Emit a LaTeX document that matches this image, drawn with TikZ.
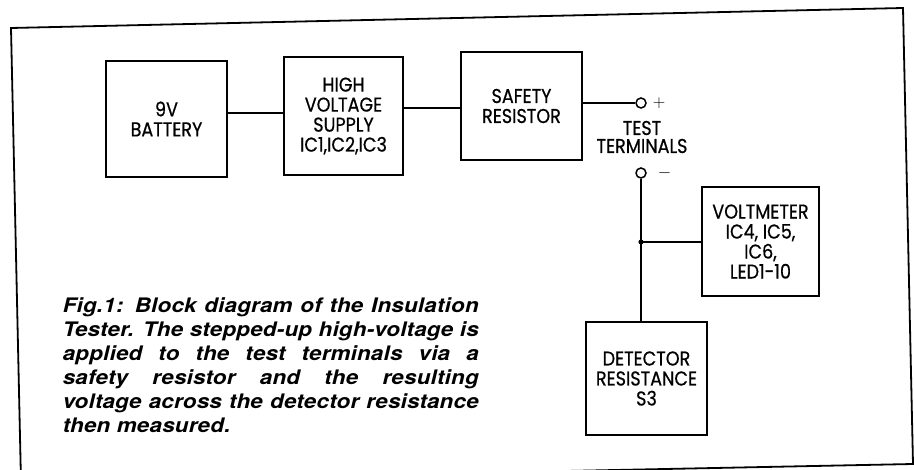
\documentclass[tikz,border=0pt]{standalone}
\usepackage{fontspec}
\usepackage{tikz}
\usetikzlibrary{positioning,calc}
\newfontfamily\boxfont[FakeStretch=0.88, FakeBold=0.6]{Poppins}
\newfontfamily\capfont[FakeStretch=1.12, LetterSpace=1]{TeX Gyre Heros}

\begin{document}
\begin{tikzpicture}[
    x=1pt, y=-1pt,
    line width=1.5pt,
    font=\boxfont\fontsize{20}{20}\selectfont,
    block/.style={draw, line width=1.7pt, align=center, inner sep=0pt, minimum width=121pt, minimum height=114pt},
    wire/.style={draw, line width=1.5pt},
    term/.style={circle, draw, line width=1.5pt, minimum size=10pt, inner sep=0pt},
    frame/.style={draw, line width=1.8pt, line join=miter}
]
\useasboundingbox (0,0) rectangle (914,470);
% outer border of the figure (scan is slightly rotated)
\coordinate (tl) at (11,28);
\coordinate (tr) at (903,8);
\coordinate (br) at (913,464);
\coordinate (bl) at (21,482);
\draw[frame] (tl) -- (tr) -- (br) -- (bl) -- cycle;

\node[block, minimum height=116pt] (battery) at (166.5,119) {9V\\BATTERY};
\node[block, minimum width=119pt, minimum height=118pt] (supply) at (343.5,116) {HIGH\\VOLTAGE\\SUPPLY\\IC1,IC2,IC3};
\node[block, minimum height=108pt] (safety) at (521.5,106) {SAFETY\\RESISTOR};
\node[block, minimum width=117pt, minimum height=109pt] (voltmeter) at (760.5,241.5) {VOLTMETER\\IC4, IC5,\\IC6,\\LED1-10};
\node[block, minimum height=113pt] (detector) at (646.5,378.5) {DETECTOR\\RESISTANCE\\S3};

% test terminals
\node[term, label={[font=\fontsize{18}{18}\selectfont, xshift=2pt]right:$+$}] (plus) at (641,103) {};
\node[term, label={[font=\fontsize{18}{18}\selectfont, xshift=7pt]right:$-$}] (minus) at (641,173) {};
\node[align=center, inner sep=0pt, font=\boxfont\fontsize{20}{18}\selectfont] (terminals) at (642,137) {TEST\\TERMINALS};
\coordinate (junc) at (641,242);

\draw[wire] ([yshift=6pt]battery.east) -- ([yshift=6pt]battery.east -| supply.west);
\draw[wire] ([yshift=8pt]supply.east) -- ([yshift=8pt]supply.east -| safety.west);
\draw[wire] ([yshift=3pt]safety.east) -- (plus.west);
\draw[wire] (minus.south) -- (minus.south |- detector.north);
\draw[wire] (junc) -- (junc -| voltmeter.west);
\fill (junc) circle (2.6pt);

% caption
\node[anchor=north west, inner sep=0pt, text width=416pt, align=justify,
      font=\capfont\bfseries\itshape\fontsize{20}{24}\selectfont] (caption) at (62,297)
  {Fig.1: Block diagram of the Insulation\linebreak
   Tester. The stepped-up high-voltage is\linebreak
   applied to the test terminals via a\linebreak
   safety resistor and the resulting\linebreak
   voltage across the detector resistance\linebreak
   then measured.};
\end{tikzpicture}
\end{document}
